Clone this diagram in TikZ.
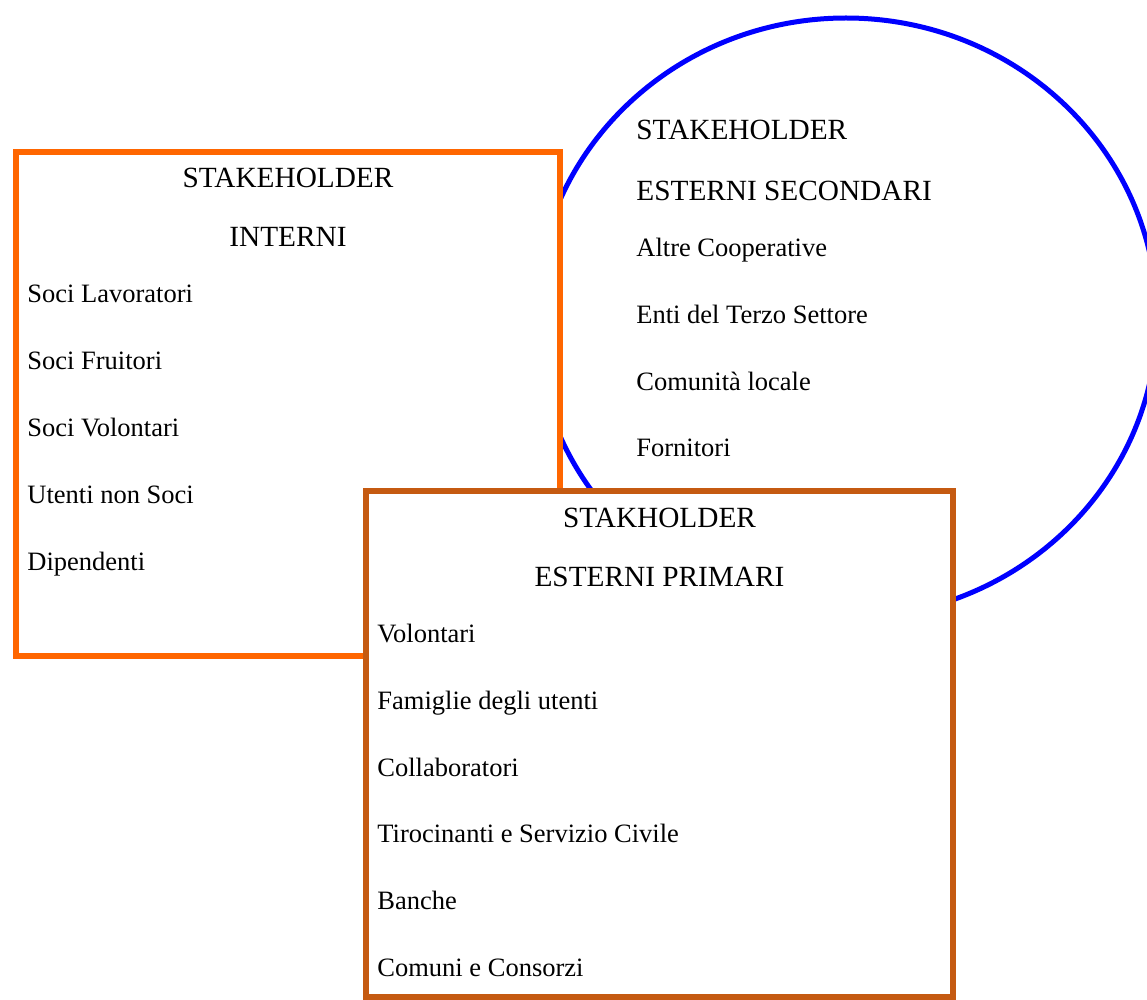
\documentclass[tikz,border=0pt]{standalone}
\usepackage{fontspec}
\setmainfont{Liberation Serif}
\usepackage{xcolor}
\usetikzlibrary{shapes.geometric, positioning}

\definecolor{intorange}{RGB}{255,102,0}
\definecolor{priorange}{RGB}{197,90,17}
\definecolor{secblue}{RGB}{0,0,255}

\begin{document}
\begin{tikzpicture}[
    x=0.5pt, y=-0.5pt,
    node distance=20pt and 0pt,
    area/.style={rectangle, draw, line width=3pt, fill=white, inner sep=0pt},
    head/.style={font=\fontsize{14.65}{16}\selectfont, inner sep=0pt,
      text height=10pt, text depth=0pt},
    voice/.style={font=\fontsize{13.25}{15}\selectfont, inner sep=0pt,
      text height=10pt, text depth=3pt}
]
\clip (0,0) rectangle (1147,1000);
\useasboundingbox (0,0) rectangle (1147,1000);

% secondary external stakeholders (the ring at the back)
\node[ellipse, draw=secblue, line width=2.5pt, inner sep=0pt,
  minimum width=311pt, minimum height=300pt] (secondari) at (846,318) {};
\node[head, anchor=base west] (sec1) at (636,140) {STAKEHOLDER};
\node[head, below right=20pt and 0pt of sec1.south west] (sec2) {ESTERNI SECONDARI};
\node[voice, anchor=base west] (altre) at (636,256.5) {Altre Cooperative};
\node[voice, below right=of altre.south west] (enti) {Enti del Terzo Settore};
\node[voice, below right=of enti.south west] (comunita) {Comunità locale};
\node[voice, below right=of comunita.south west] (fornitori) {Fornitori};

% internal stakeholders
\node[area, draw=intorange, minimum width=272pt, minimum height=252pt]
  (interni) at (288,404) {};
\node[head, below=9pt of interni.north] (int1) {STAKEHOLDER};
\node[head, below=19pt of int1] (int2) {INTERNI};
\node[voice, anchor=base west] (lavoratori) at (27,303) {Soci Lavoratori};
\node[voice, below right=of lavoratori.south west] (fruitori) {Soci Fruitori};
\node[voice, below right=of fruitori.south west] (sociv) {Soci Volontari};
\node[voice, below right=of sociv.south west] (utenti) {Utenti non Soci};
\node[voice, below right=of utenti.south west] (dipendenti) {Dipendenti};

% primary external stakeholders (in front)
\node[area, draw=priorange, minimum width=293.5pt, minimum height=253pt]
  (primari) at (659.5,744) {};
\node[head, below=9.5pt of primari.north] (pri1) {STAKHOLDER};
\node[head, below=19pt of pri1] (pri2) {ESTERNI PRIMARI};
\node[voice, anchor=base west] (volontari) at (377,642.5) {Volontari};
\node[voice, below right=of volontari.south west] (famiglie) {Famiglie degli utenti};
\node[voice, below right=of famiglie.south west] (collab) {Collaboratori};
\node[voice, below right=of collab.south west] (tirocinanti) {Tirocinanti e Servizio Civile};
\node[voice, below right=of tirocinanti.south west] (banche) {Banche};
\node[voice, below right=of banche.south west] (comuni) {Comuni e Consorzi};

\end{tikzpicture}
\end{document}
